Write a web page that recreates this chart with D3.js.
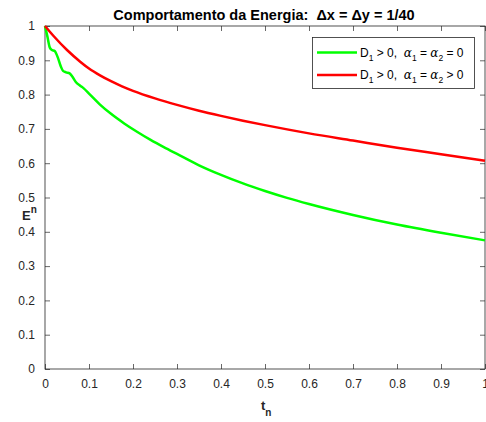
<!DOCTYPE html>
<html>
<head>
<meta charset="utf-8">
<script src="https://cdn.jsdelivr.net/npm/d3@7"></script>
<style>
  body { margin: 0; background: #fff; }
  svg { font-family: "Liberation Sans", Arial, sans-serif; }
</style>
</head>
<body>
<svg id="chart" width="486" height="422"></svg>
<script>
// energy curves
const tGreen = [0, 0.005, 0.011, 0.016, 0.022, 0.03, 0.036, 0.041, 0.048, 0.056, 0.062, 0.07, 0.08, 0.088,
                0.1, 0.125, 0.15, 0.18, 0.21, 0.24, 0.27, 0.3, 0.35, 0.4, 0.45, 0.5, 0.55,
                0.6, 0.7, 0.8, 0.9, 1.0]
const eGreen = [1, 0.972, 0.937, 0.93, 0.927, 0.905, 0.882, 0.869, 0.865, 0.862, 0.853, 0.837, 0.826, 0.818,
                0.803, 0.771, 0.744, 0.716, 0.691, 0.668, 0.647, 0.627, 0.594, 0.566, 0.541, 0.519, 0.499,
                0.481, 0.449, 0.421, 0.397, 0.375]

const tRed = [0, 0.02, 0.05, 0.08, 0.1, 0.125, 0.15, 0.175, 0.2, 0.25, 0.3, 0.35, 0.4, 0.45, 0.5,
              0.6, 0.7, 0.8, 0.9, 1.0]
const eRed = [1, 0.97, 0.93, 0.896, 0.876, 0.856, 0.839, 0.824, 0.811, 0.789, 0.77, 0.753, 0.738, 0.724, 0.711,
              0.687, 0.666, 0.645, 0.626, 0.607]

const xTicks = [0, 0.1, 0.2, 0.3, 0.4, 0.5, 0.6, 0.7, 0.8, 0.9, 1]
const yTicks = [0, 0.1, 0.2, 0.3, 0.4, 0.5, 0.6, 0.7, 0.8, 0.9, 1]

const margin = {top: 26, right: 1, bottom: 53, left: 45}
const width = 486 - margin.left - margin.right
const height = 422 - margin.top - margin.bottom
const axisColor = '#262626'

const svg = d3.select('#chart')
const g = svg.append('g').attr('transform', `translate(${margin.left},${margin.top})`)

const x = d3.scaleLinear().domain([0, 1]).range([0, width])
const y = d3.scaleLinear().domain([0, 1]).range([height, 0])

const fmt = d => d === 0 || d === 1 ? String(d) : d.toFixed(1)

// axes, matlab style: ticks inside on all four sides
const styleAxis = sel => {
    sel.select('.domain').remove()
    sel.selectAll('line').attr('stroke', axisColor).attr('stroke-width', 0.7)
    sel.selectAll('text').attr('fill', axisColor).style('font-size', '12px')
}

g.append('g').attr('transform', `translate(0,${height})`)
    .call(d3.axisBottom(x).tickValues(xTicks).tickFormat(fmt).tickSizeInner(-5).tickSizeOuter(0).tickPadding(10))
    .call(styleAxis)
g.append('g')
    .call(d3.axisTop(x).tickValues(xTicks).tickFormat('').tickSizeInner(-5).tickSizeOuter(0))
    .call(styleAxis)
g.append('g')
    .call(d3.axisLeft(y).tickValues(yTicks).tickFormat(fmt).tickSizeInner(-5).tickSizeOuter(0).tickPadding(10))
    .call(styleAxis)
g.append('g').attr('transform', `translate(${width},0)`)
    .call(d3.axisRight(y).tickValues(yTicks).tickFormat('').tickSizeInner(-5).tickSizeOuter(0))
    .call(styleAxis)

g.append('rect')
    .attr('width', width).attr('height', height)
    .attr('fill', 'none').attr('stroke', axisColor).attr('stroke-width', 0.8)

const line = d3.line()
    .x(d => x(d[0]))
    .y(d => y(d[1]))
    .curve(d3.curveMonotoneX)

g.append('path')
    .datum(d3.zip(tGreen, eGreen))
    .attr('d', line)
    .attr('fill', 'none').attr('stroke', '#00ff00').attr('stroke-width', 2.5)

g.append('path')
    .datum(d3.zip(tRed, eRed))
    .attr('d', line)
    .attr('fill', 'none').attr('stroke', '#ff0000').attr('stroke-width', 2.5)

// title
svg.append('text')
    .attr('x', 264).attr('y', 20)
    .attr('text-anchor', 'middle')
    .style('white-space', 'pre')
    .attr('font-weight', 'bold').style('font-size', '14.5px').attr('fill', '#000')
    .text('Comportamento da Energia:  \u0394x = \u0394y = 1/40')

// axis labels
const xl = svg.append('text')
    .attr('x', margin.left + width / 2 - 4).attr('y', 410)
    .attr('font-weight', 'bold').style('font-size', '13px').attr('fill', axisColor)
xl.append('tspan').text('t')
xl.append('tspan').attr('dy', 6).style('font-size', '10px').text('n')

const yl = svg.append('text')
    .attr('x', 22).attr('y', 220)
    .attr('font-weight', 'bold').style('font-size', '13px').attr('fill', axisColor)
yl.append('tspan').text('E')
yl.append('tspan').attr('dy', -7).style('font-size', '10px').text('n')

// legend
const legend = svg.append('g')
legend.append('rect')
    .attr('x', 312.5).attr('y', 37.5).attr('width', 162).attr('height', 51)
    .attr('fill', '#fff').attr('stroke', axisColor).attr('stroke-width', 0.8)

const entries = [
    {color: '#00ff00', last: '= 0', yy: 52.5},
    {color: '#ff0000', last: '> 0', yy: 75}
]
entries.forEach(e => {
    legend.append('line')
        .attr('x1', 317).attr('x2', 357).attr('y1', e.yy).attr('y2', e.yy)
        .attr('stroke', e.color).attr('stroke-width', 2.5)
    const t = legend.append('text')
        .attr('x', 360).attr('y', e.yy + 4)
        .style('white-space', 'pre')
        .style('font-size', '12px').attr('fill', '#000')
    t.append('tspan').text('D')
    t.append('tspan').attr('dy', 4).style('font-size', '8.5px').text('1')
    t.append('tspan').attr('dy', -4).text(' > 0,  ')
    t.append('tspan').attr('font-family', 'DejaVu Serif').attr('font-style', 'italic').text('\u03b1')
    t.append('tspan').attr('dy', 4).style('font-size', '8.5px').text('1')
    t.append('tspan').attr('dy', -4).text(' = ')
    t.append('tspan').attr('font-family', 'DejaVu Serif').attr('font-style', 'italic').text('\u03b1')
    t.append('tspan').attr('dy', 4).style('font-size', '8.5px').text('2')
    t.append('tspan').attr('dy', -4).text(' ' + e.last)
})
</script>
</body>
</html>
